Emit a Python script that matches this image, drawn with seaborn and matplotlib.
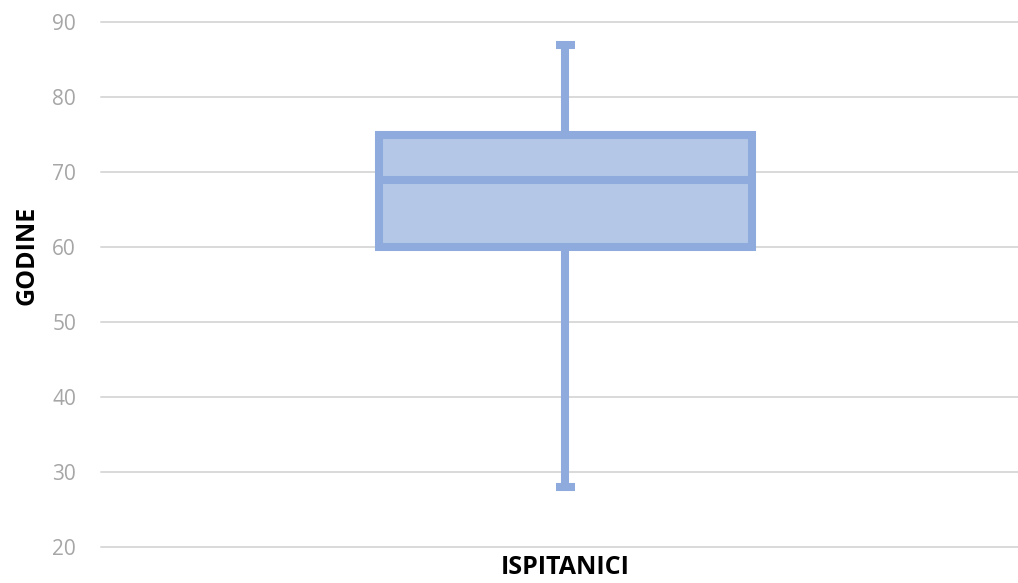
import matplotlib
matplotlib.use("Agg")
import matplotlib.pyplot as plt
import seaborn as sns
import pandas as pd
import numpy as np

# Data (five-number summary)
category = "ISPITANICI"
values = [28, 60, 69, 75, 87]   # min, Q1, median, Q3, max
y_ticks = [20, 30, 40, 50, 60, 70, 80, 90]

df = pd.DataFrame({"grupa": [category] * len(values), "godine": values})

sns.set_theme(style="white")
plt.rcParams['font.family'] = ['Open Sans', 'DejaVu Sans']

fig = plt.figure(figsize=(10.18, 5.83), dpi=100)
ax = fig.add_axes([101/1018, 1 - 547/583, (1018 - 101)/1018, (547 - 22)/583])

edge = "#8FAADC"
fill = "#B4C7E7"
lw = 5.8
sns.boxplot(data=df, x="grupa", y="godine", ax=ax, whis=(0, 100), width=0.407,
            color=fill, linewidth=lw, showfliers=False,
            boxprops=dict(facecolor=fill, edgecolor=edge, linewidth=lw),
            medianprops=dict(color=edge, linewidth=lw, solid_capstyle='butt'),
            whiskerprops=dict(color=edge, linewidth=lw, solid_capstyle='butt'),
            capprops=dict(color=edge, linewidth=lw, solid_capstyle='butt'),
            capwidths=0.021)

ax.set_ylim(20, 90)
ax.set_xlim(-0.5065, 0.4935)
ax.set_yticks(y_ticks)
ax.yaxis.grid(True, color="#D9D9D9", linewidth=1.4)
for gl in ax.get_ygridlines():
    gl.set_clip_on(False)
ax.set_axisbelow(True)
for s in ax.spines.values():
    s.set_visible(False)
ax.tick_params(axis='y', colors="#A6A6A6", labelsize=15, length=0, pad=18)
ax.tick_params(axis='x', length=0)
ax.set_xticklabels([])
ax.set_xlabel(category, fontsize=18, fontweight='bold', color='black', labelpad=2, x=0.506)
ax.set_ylabel("GODINE", fontsize=18, fontweight='bold', color='black', labelpad=9, y=0.555)

fig.savefig("out.png", dpi=100)
